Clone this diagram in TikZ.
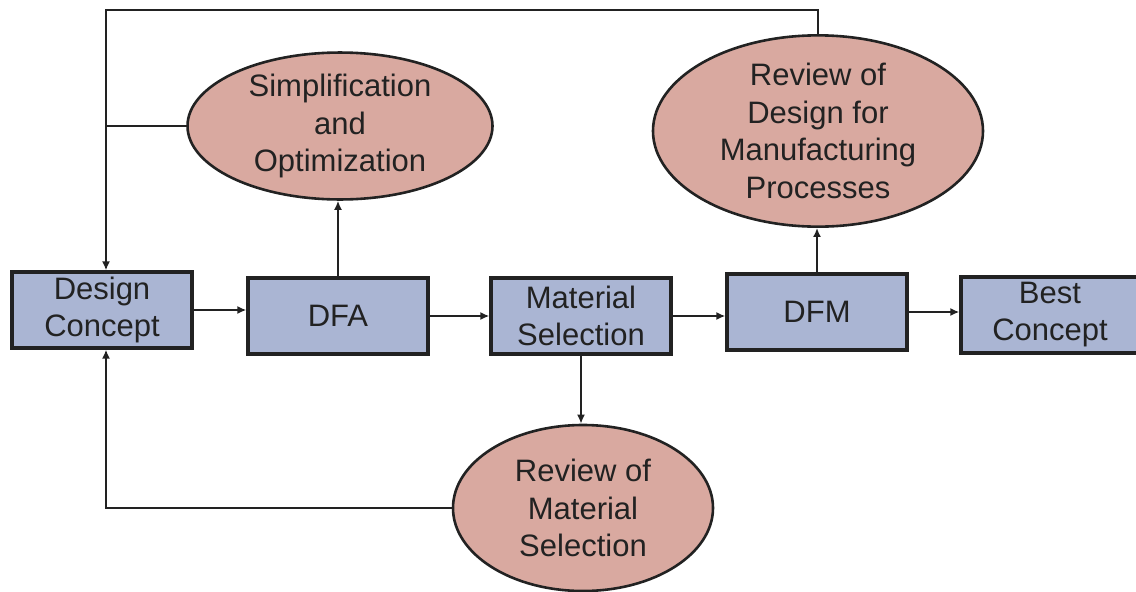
\documentclass[tikz,border=0pt]{standalone}
\usepackage{fontspec}
\setmainfont{Liberation Sans}
\usetikzlibrary{shapes.geometric,arrows.meta}
\definecolor{boxfill}{HTML}{AAB5D3}
\definecolor{ovalfill}{HTML}{D9A9A0}
\definecolor{inkgray}{HTML}{222222}
\begin{document}
\begin{tikzpicture}[x=1pt,y=-1pt,
  stagebox/.style={draw=inkgray,line width=3.2pt,fill=boxfill,minimum width=180pt,minimum height=76pt,
    inner sep=0pt,align=center,text=inkgray,font=\fontsize{31}{37}\selectfont},
  review/.style={ellipse,draw=inkgray,line width=2.6pt,fill=ovalfill,inner sep=0pt,
    align=center,text=inkgray,font=\fontsize{31}{37.5}\selectfont},
  flow/.style={draw=inkgray,line width=2.8pt,-{Latex[length=9pt,width=8pt]}},
  link/.style={draw=inkgray,line width=2.8pt}]
\useasboundingbox (0,0) rectangle (1136,592);

% main chain of stages
\node[stagebox] (dc)  at (102,310) {Design\\Concept};
\node[stagebox] (dfa) at (338,316) {DFA};
\node[stagebox] (ms)  at (581,316) {Material\\Selection};
\node[stagebox] (dfm) at (817,312) {DFM};
\node[stagebox,minimum width=178pt] (bc) at (1050,315) {Best\\Concept};

% review steps
\node[review,minimum width=305pt,minimum height=142pt] (simp) at (340,126) {Simplification\\and\\Optimization};
\node[review,minimum width=330pt,minimum height=168pt] (rdfm) at (818,131) {Review of\\Design for\\Manufacturing\\Processes};
\node[review,minimum width=260pt,minimum height=166pt] (rms) at (583,508) {Review of\\Material\\Selection};

% feedback corners
\coordinate (topl) at (106,10);
\coordinate (botl) at (106,508);

% forward flow
\draw[flow] (dc.east) -- (dc.east -| dfa.west);
\draw[flow] (dfa.east) -- (dfa.east -| ms.west);
\draw[flow] (ms.east) -- (ms.east -| dfm.west);
\draw[flow] (dfm.east) -- (dfm.east -| bc.west);
\draw[flow] (dfa.north) -- (dfa.north |- simp.south);
\draw[flow] (dfm.north) -- (dfm.north |- rdfm.south);
\draw[flow] (ms.south) -- (ms.south |- rms.north);

% feedback loops back to the design concept
\draw[flow] (rdfm.north) |- (topl) -- (topl |- dc.north);
\draw[link] (simp.west) -- (simp.west -| topl);
\draw[flow] (rms.west) -- (botl) -- (botl |- dc.south);
\end{tikzpicture}
\end{document}
